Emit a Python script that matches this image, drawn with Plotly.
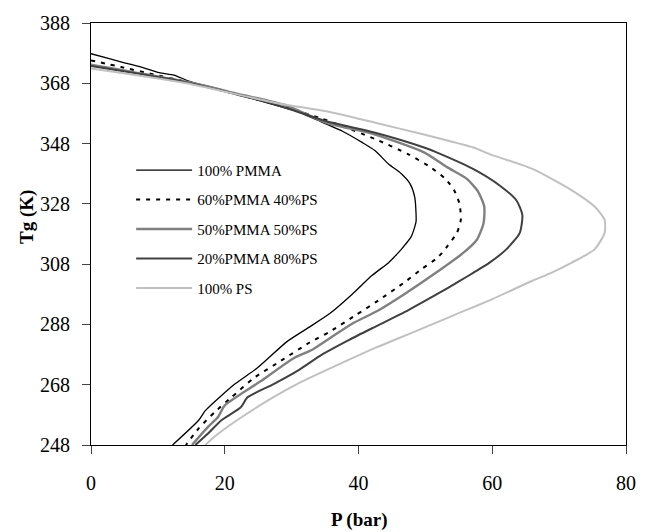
import plotly.graph_objects as go

# 100% PMMA
p_pmma = [0, 2.6, 5.0, 7.5, 10.2, 12.4, 14.3, 16.3, 19.2, 22.6, 27.8, 30.8, 33.7, 37.6, 40.6, 42.5, 44.5,
          46.4, 47.7, 48.4, 48.6, 48.6, 47.9, 46.4, 45.4, 44.5, 42.0, 39.1, 35.7, 32.7, 29.3, 24.9, 21.5,
          17.1, 16.1, 12.2]
t_pmma = [377.8, 376.3, 374.8, 373.4, 371.5, 370.7, 369.0, 367.6, 366.1, 363.9, 360.6, 358.7, 355.9, 352.1,
          348.3, 345.6, 341.2, 338.0, 334.7, 330.3, 325.0, 322.0, 317.2, 312.9, 310.5, 308.5, 304.2, 298.1,
          291.6, 287.2, 282.3, 273.6, 268.2, 259.4, 256.2, 248.0]

# 60% PMMA 40% PS
p_6040 = [0, 4.5, 9.4, 13.3, 16.3, 22.6, 28.0, 34.2, 37.6, 42.5, 47.4, 50.8, 53.0, 54.3, 55.1, 55.3, 54.7,
          53.3, 51.8, 49.4, 46.9, 43.0, 39.6, 35.7, 32.7, 28.3, 24.4, 21.0, 18.5, 16.1, 14.2]
t_6040 = [375.6, 373.4, 370.9, 369.0, 367.4, 363.9, 360.8, 356.5, 353.8, 349.5, 344.5, 340.1, 336.3, 332.5,
          328.1, 322.7, 318.3, 314.0, 310.1, 306.3, 302.0, 296.0, 291.1, 285.6, 282.0, 275.8, 270.3, 263.8,
          258.9, 253.5, 248.0]

# 50% PMMA 50% PS
p_5050 = [0, 14.3, 22.0, 29.0, 35.2, 42.5, 49.8, 53.3, 56.2, 57.9, 58.8, 58.7, 57.7, 55.7, 51.3, 46.9, 43.0,
          39.1, 35.7, 33.0, 30.3, 25.4, 20.0, 19.0, 17.5, 15.1]
t_5050 = [374.2, 368.5, 364.5, 360.8, 354.9, 351.0, 345.1, 340.1, 336.3, 332.0, 327.1, 321.6, 316.1, 311.8,
          304.7, 298.1, 292.7, 288.3, 283.4, 279.5, 276.8, 269.2, 261.1, 257.3, 254.0, 248.0]

# 20% PMMA 80% PS
p_2080 = [0, 14.3, 27.8, 35.2, 42.5, 49.8, 52.3, 57.2, 61.1, 63.6, 64.5, 64.1, 62.1, 59.6, 57.2, 55.2, 51.8,
          47.4, 43.0, 38.6, 34.7, 30.8, 27.3, 23.4, 22.4, 19.5, 17.5, 15.6]
t_2080 = [373.7, 368.3, 360.8, 355.4, 351.6, 346.7, 344.5, 339.5, 334.1, 329.2, 324.3, 318.3, 312.9, 308.5,
          305.2, 302.5, 298.1, 292.7, 287.8, 282.9, 278.2, 272.5, 268.2, 263.8, 260.5, 256.2, 251.8, 248.0]

# 100% PS
p_ps = [0, 14.3, 27.8, 35.2, 42.5, 49.8, 57.2, 59.6, 66.0, 71.9, 75.3, 76.8, 76.8, 75.3, 71.9, 68.9, 66.0,
        60.1, 54.3, 48.4, 42.5, 38.1, 30.8, 26.4, 21.5, 18.5, 17.1]
t_ps = [372.9, 368.0, 361.4, 358.7, 354.9, 351.0, 346.7, 344.5, 339.6, 332.5, 327.1, 322.7, 318.3, 312.9,
        308.5, 305.2, 302.5, 296.5, 291.1, 285.6, 280.2, 275.8, 268.2, 262.7, 255.7, 250.8, 248.0]

names = ["100% PMMA", "60%PMMA 40%PS", "50%PMMA 50%PS", "20%PMMA 80%PS", "100% PS"]
series = [(p_pmma, t_pmma), (p_6040, t_6040), (p_5050, t_5050), (p_2080, t_2080), (p_ps, t_ps)]
colors = ["#000000", "#000000", "#808080", "#404040", "#c0c0c0"]
widths = [1.3, 2.0, 2.4, 2.0, 2.0]
dashes = ["solid", "4px,6px", "solid", "solid", "solid"]

x_ticks = [0, 20, 40, 60, 80]
y_ticks = [248, 268, 288, 308, 328, 348, 368, 388]

fig = go.Figure()
for i, (name, (p, t)) in enumerate(zip(names, series)):
    fig.add_trace(go.Scatter(x=p, y=t, mode="lines", name=name, legendgroup=f"g{i}",
                             line=dict(color=colors[i], width=widths[i], dash=dashes[i],
                                       shape="spline", smoothing=0.6)))

serif = "Liberation Serif, Times New Roman, serif"
fig.update_layout(
    width=648, height=532,
    margin=dict(l=91, r=12, t=17, b=87),
    plot_bgcolor="white", paper_bgcolor="white",
    font=dict(family=serif, size=20, color="black"),
    showlegend=True,
    legend=dict(x=0.075, y=0.69, xanchor="left", yanchor="top", bgcolor="rgba(0,0,0,0)",
                font=dict(family=serif, size=15), itemwidth=56, tracegroupgap=7),
    xaxis=dict(range=[0, 80], tickvals=x_ticks, ticks="outside", ticklen=8, tickwidth=1,
               showline=True, linecolor="black", linewidth=1, mirror=True, showgrid=False,
               zeroline=False, ticklabelstandoff=12),
    yaxis=dict(range=[248, 388], tickvals=y_ticks, ticks="outside", ticklen=8, tickwidth=1,
               showline=True, linecolor="black", linewidth=1, mirror=True, showgrid=False,
               zeroline=False, ticklabelstandoff=8),
    annotations=[
        dict(text="<b>P (bar)</b>", xref="paper", yref="paper", x=0.5, y=-0.178, yanchor="middle",
             showarrow=False, font=dict(family=serif, size=19)),
        dict(text="<b>Tg (K)</b>", xref="paper", yref="paper", x=-0.12, y=0.54, textangle=-90,
             xanchor="center", yanchor="middle", showarrow=False, font=dict(family=serif, size=19)),
    ],
)

fig.write_html("out.html")
